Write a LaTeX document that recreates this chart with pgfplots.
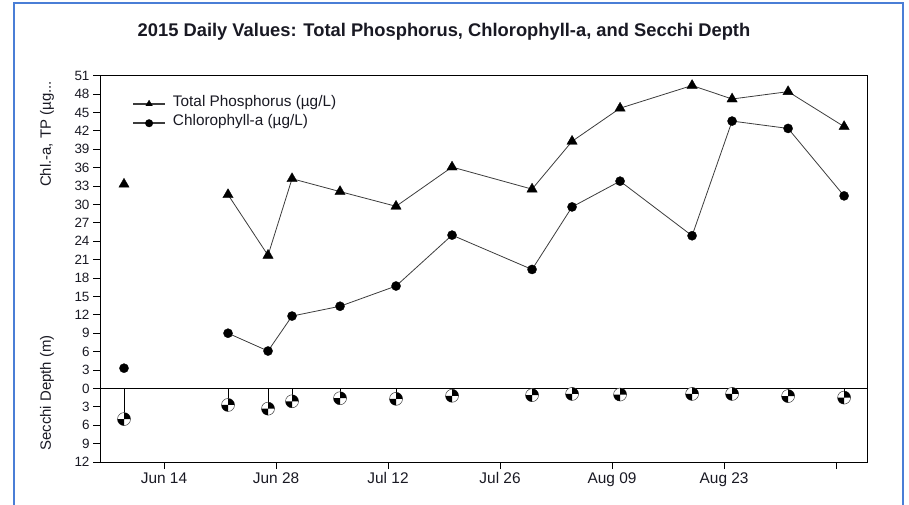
\documentclass[border=0pt]{standalone}
\usepackage{fontspec}
\setmainfont{Liberation Sans}
\usepackage{pgfplots}
\pgfplotsset{compat=1.18}

\definecolor{frameblue}{RGB}{74,126,214}
\definecolor{linegray}{RGB}{60,60,60}
\definecolor{txt}{RGB}{25,25,35}

\pgfdeclareplotmark{secchi}{%
  \pgfpathcircle{\pgfpointorigin}{\pgfplotmarksize}%
  \pgfsetfillcolor{white}%
  \pgfusepathqfillstroke
  \pgfpathmoveto{\pgfpointorigin}%
  \pgfpathlineto{\pgfpoint{\pgfplotmarksize}{0pt}}%
  \pgfpatharc{0}{90}{\pgfplotmarksize}%
  \pgfpathclose
  \pgfpathmoveto{\pgfpointorigin}%
  \pgfpathlineto{\pgfpoint{-\pgfplotmarksize}{0pt}}%
  \pgfpatharc{180}{270}{\pgfplotmarksize}%
  \pgfpathclose
  \pgfsetfillcolor{black}%
  \pgfusepathqfill
}

\begin{document}
\begin{tikzpicture}
\path[use as bounding box] (0bp,0bp) rectangle (909bp,505bp);
\draw[frameblue, line width=2bp] (14bp,-10bp) -- (14bp,502bp) -- (903bp,502bp) -- (903bp,-10bp);
\node[font=\fontsize{18.4}{20}\selectfont\bfseries, text=txt] at (444bp,473bp) {2015 Daily Values: Total Phosphorus, Chlorophyll-a, and Secchi Depth};
\node[rotate=90, font=\fontsize{15}{17}\selectfont, text=txt] at (47bp,371bp) {Chl.-a, TP (µg...};
\node[rotate=90, font=\fontsize{15}{17}\selectfont, text=txt] at (47bp,112bp) {Secchi Depth (m)};
\begin{axis}[
  at={(100bp,43bp)}, anchor=south west, scale only axis,
  width=767.3bp, height=386.3bp,
  xmin=6, xmax=101.9, ymin=-12, ymax=51,
  axis line style={black, line width=1bp},
  tick style={black, line width=1bp},
  tick align=outside, major tick length=7bp,
  xtick pos=lower, ytick pos=left,
  ytick={-12,-9,...,51},
  yticklabel={\pgfmathparse{int(abs(\tick))}\pgfmathresult},
  xtick={14,28,42,56,70,84,98},
  xticklabels={Jun 14,Jun 28,Jul 12,Jul 26,Aug 09,Aug 23,},
  yticklabel style={font=\fontsize{13.5}{15}\selectfont, text=txt},
  xticklabel style={font=\fontsize{15.5}{17}\selectfont, text=txt},
  unbounded coords=jump,
  legend style={draw=none, fill=none, at={(0.0417,0.9423)}, anchor=north west,
    inner sep=0pt, row sep=7.8bp, column sep=7bp,
    nodes={inner sep=0pt, text height=8.5bp, text depth=3bp, font=\fontsize{15.4}{17}\selectfont, text=txt}},
  legend cell align=left,
  legend image code/.code={\draw[mark repeat=2,mark phase=2,#1,line width=1.8bp,mark size=3.8bp] plot coordinates {(0bp,0bp) (16bp,0bp) (32bp,0bp)};},
]
\draw[black, line width=1bp] (axis cs:6,0) -- (axis cs:101.9,0);
\addplot[linegray, line width=0.8bp, mark=triangle*, mark size=6bp, mark options={black, solid, line width=0.3bp}]
coordinates {(9,33.3) (15,nan) (22,31.6) (27,21.7) (30,34.2) (36,32.1) (43,29.7) (50,36.1) (60,32.5) (65,40.3) (71,45.7) (80,49.4) (85,47.2) (92,48.4) (99,42.7)};
\addlegendentry{Total Phosphorus (µg/L)}
\addplot[linegray, line width=0.8bp, mark=*, mark size=4.6bp, mark options={black, solid, line width=0.3bp}]
coordinates {(9,3.3) (15,nan) (22,9.0) (27,6.1) (30,11.8) (36,13.4) (43,16.7) (50,25.0) (60,19.4) (65,29.6) (71,33.8) (80,24.9) (85,43.6) (92,42.4) (99,31.4)};
\addlegendentry{Chlorophyll-a (µg/L)}
\addplot[ycomb, black, line width=0.8bp, mark=secchi, mark size=6.5bp, mark options={solid, draw=darkgray, line width=0.5bp}, forget plot]
coordinates {(9,-5.0) (22,-2.7) (27,-3.3) (30,-2.1) (36,-1.6) (43,-1.7) (50,-1.2) (60,-1.1) (65,-0.9) (71,-1.0) (80,-0.9) (85,-0.9) (92,-1.25) (99,-1.5)};
\end{axis}
\end{tikzpicture}
\end{document}
